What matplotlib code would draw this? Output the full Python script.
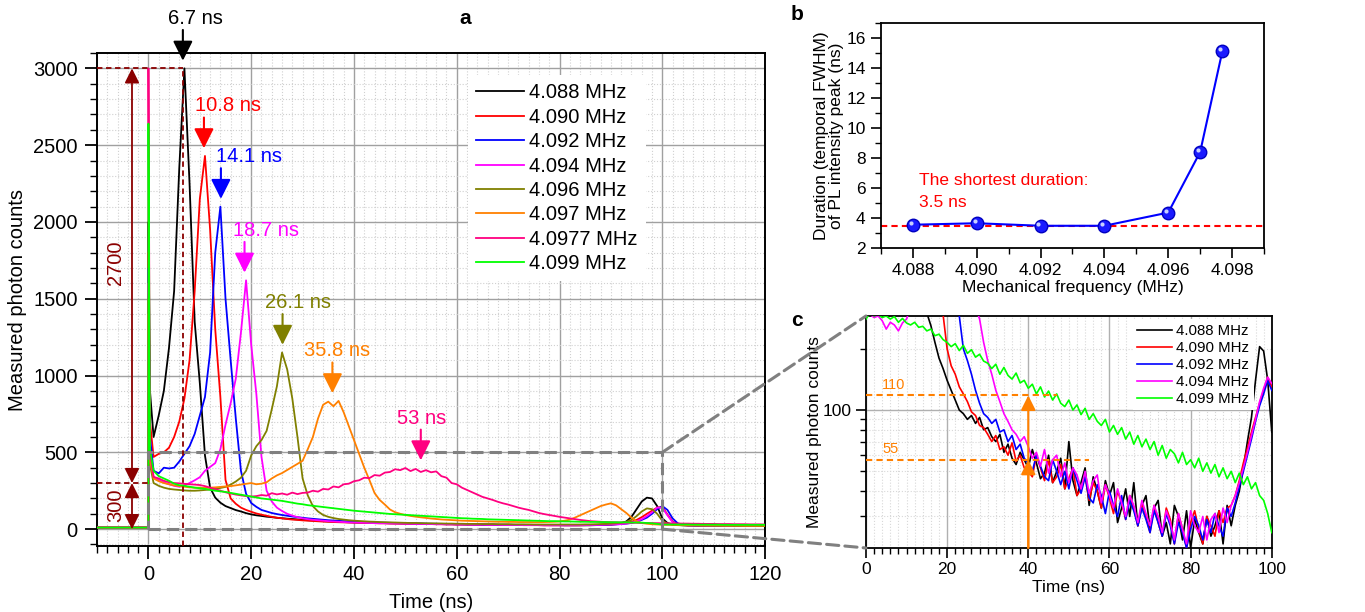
import numpy as np
import matplotlib.pyplot as plt
from matplotlib.patches import Rectangle, ConnectionPatch
from matplotlib.ticker import MultipleLocator, FixedLocator, NullFormatter, FormatStrFormatter
import matplotlib.transforms as mtransforms

plt.rcParams['font.family'] = ['Liberation Sans', 'DejaVu Sans']

# ---------------- data ----------------
labels = ['4.088 MHz', '4.090 MHz', '4.092 MHz', '4.094 MHz',
          '4.096 MHz', '4.097 MHz', '4.0977 MHz', '4.099 MHz']
colors = ['#000000', '#ff0000', '#0000ff', '#ff00ff',
          '#808000', '#ff8000', '#ff0080', '#00ff00']

# panel a: time grid (ns), baseline points, laser spike, then 1 ns steps
t_a = [-10, -0.01, 0, 0.3] + list(range(1, 121))

black_a = [10, 10, 2000, 900,
    600, 740, 900, 1180, 1550, 2350, 3000, 2250, 1350, 950,
    480, 270, 205, 172, 150, 137, 124, 115, 104, 96,
    90, 86, 81, 78, 74, 71, 68, 66, 63, 60,
    58, 56, 55, 52, 50, 49, 47, 46, 45, 44,
    43, 42, 41, 40, 40, 39, 38, 38, 37, 36,
    36, 35, 35, 34, 34, 33, 33, 32, 32, 31,
    31, 30, 30, 30, 29, 29, 29, 28, 28, 28,
    28, 27, 27, 27, 27, 26, 26, 26, 26, 26,
    25, 25, 25, 25, 25, 25, 26, 27, 28, 30,
    33, 38, 50, 80, 130, 180, 205, 200, 150, 70,
    40, 30, 27, 25, 24, 24, 23, 23, 23, 22,
    22, 22, 22, 21, 21, 21, 21, 20, 20, 20]
red_a = [10, 10, 1800, 700,
    470, 490, 500, 530, 600, 700, 850, 1100, 1550, 2150,
    2430, 1950, 1300, 860, 320, 200, 165, 140, 125, 113,
    102, 94, 87, 80, 74, 70, 66, 62, 60, 57,
    55, 53, 51, 49, 48, 46, 45, 44, 43, 42,
    41, 40, 40, 39, 38, 38, 37, 36, 36, 35,
    35, 34, 34, 33, 33, 32, 32, 31, 31, 30,
    30, 30, 29, 29, 29, 28, 28, 28, 27, 27,
    27, 27, 26, 26, 26, 26, 25, 25, 25, 25,
    25, 25, 25, 25, 26, 26, 27, 28, 29, 30,
    32, 35, 40, 48, 60, 78, 100, 120, 140, 145,
    95, 50, 32, 27, 25, 24, 23, 23, 22, 22,
    22, 22, 21, 21, 21, 21, 20, 20, 20, 20]
blue_a = [10, 10, 1700, 600,
    380, 363, 400, 395, 400, 440, 490, 540, 620, 740,
    860, 1150, 1800, 2100, 1500, 1100, 720, 380, 230, 170,
    145, 125, 115, 105, 98, 92, 87, 82, 78, 74,
    70, 67, 64, 61, 58, 56, 54, 52, 50, 48,
    47, 46, 45, 44, 43, 42, 41, 40, 39, 39,
    38, 37, 37, 36, 35, 35, 34, 34, 33, 33,
    32, 32, 31, 31, 30, 30, 30, 29, 29, 29,
    28, 28, 28, 27, 27, 27, 27, 26, 26, 26,
    26, 26, 26, 26, 26, 27, 27, 28, 29, 30,
    31, 33, 36, 40, 48, 60, 75, 100, 130, 150,
    125, 70, 38, 28, 25, 24, 23, 23, 22, 22,
    22, 21, 21, 21, 21, 20, 20, 20, 20, 20]
magenta_a = [10, 10, 1600, 500,
    340, 320, 305, 292, 282, 276, 285, 300, 318, 338,
    380, 405, 430, 520, 680, 820, 980, 1280, 1620, 1200,
    880, 470, 250, 180, 140, 118, 100, 88, 78, 70,
    65, 61, 58, 55, 52, 50, 48, 46, 44, 43,
    42, 41, 40, 39, 38, 38, 37, 36, 36, 35,
    35, 34, 34, 33, 33, 32, 32, 31, 31, 30,
    30, 30, 29, 29, 29, 28, 28, 28, 27, 27,
    27, 27, 26, 26, 26, 26, 25, 25, 25, 25,
    25, 25, 25, 26, 26, 27, 27, 28, 29, 30,
    31, 33, 36, 42, 52, 65, 85, 110, 140, 140,
    90, 45, 30, 26, 24, 24, 23, 23, 22, 22,
    22, 21, 21, 21, 21, 20, 20, 20, 20, 20]
olive_a = [10, 10, 1500, 420,
    300, 282, 270, 262, 258, 255, 252, 250, 250, 252,
    255, 258, 262, 268, 275, 290, 310, 335, 380, 480,
    540, 580, 640, 780, 930, 1150, 1040, 850, 600, 330,
    220, 150, 115, 92, 80, 72, 66, 62, 58, 55,
    53, 51, 49, 48, 46, 45, 44, 43, 42, 41,
    40, 40, 39, 38, 38, 37, 37, 36, 36, 35,
    35, 34, 34, 34, 33, 33, 33, 32, 32, 32,
    31, 31, 31, 31, 30, 30, 30, 30, 30, 30,
    30, 30, 30, 30, 31, 31, 32, 33, 34, 36,
    38, 42, 48, 60, 85, 115, 135, 130, 100, 55,
    35, 28, 26, 25, 24, 24, 23, 23, 23, 22,
    22, 22, 22, 21, 21, 21, 21, 21, 20, 20]
orange_a = [10, 10, 1400, 450,
    330, 312, 300, 292, 285, 280, 276, 272, 270, 270,
    268, 270, 272, 275, 278, 280, 285, 290, 295, 300,
    292, 296, 305, 330, 350, 365, 385, 405, 425, 445,
    520, 600, 720, 810, 830, 800, 835, 760, 670, 580,
    490, 400, 320, 235, 190, 160, 128, 110, 100, 92,
    86, 81, 77, 73, 69, 66, 63, 61, 59, 57,
    55, 54, 53, 52, 51, 50, 49, 48, 48, 47,
    47, 46, 46, 46, 45, 45, 46, 47, 48, 50,
    55, 62, 75, 90, 105, 120, 135, 150, 160, 168,
    155, 130, 105, 75, 50, 40, 35, 32, 30, 29,
    28, 28, 27, 27, 26, 26, 26, 25, 25, 25,
    25, 24, 24, 24, 24, 23, 23, 23, 23, 23]
pink_a = [10, 10, 3000, 500,
    340, 330, 315, 305, 300, 298, 295, 292, 290, 287,
    280, 270, 260, 250, 240, 232, 225, 220, 215, 212,
    215, 222, 218, 234, 226, 232, 224, 238, 228, 236,
    238, 250, 244, 262, 258, 278, 272, 292, 296, 312,
    318, 335, 332, 352, 348, 368, 372, 390, 384, 398,
    378, 392, 372, 384, 370, 376, 345, 335, 300, 292,
    270, 255, 240, 225, 210, 200, 190, 178, 168, 160,
    150, 140, 132, 125, 115, 105, 98, 92, 86, 80,
    75, 70, 65, 60, 56, 52, 50, 48, 46, 45,
    44, 43, 42, 42, 41, 40, 40, 39, 39, 38,
    38, 37, 37, 36, 36, 35, 35, 34, 34, 34,
    33, 33, 33, 32, 32, 32, 31, 31, 31, 30]
green_a = [10, 10, 2640, 520,
    380, 345, 330, 315, 296, 286, 282, 276, 270, 266,
    262, 256, 250, 246, 242, 236, 230, 224, 218, 212,
    206, 200, 196, 192, 188, 184, 178, 172, 166, 162,
    156, 152, 148, 144, 140, 136, 132, 128, 124, 120,
    117, 114, 111, 108, 105, 102, 99, 97, 95, 93,
    91, 89, 87, 85, 83, 81, 79, 77, 75, 73,
    71, 70, 68, 67, 66, 64, 63, 62, 61, 60,
    59, 58, 57, 56, 55, 54, 53, 52, 52, 51,
    50, 50, 49, 48, 48, 47, 47, 46, 46, 45,
    45, 44, 44, 43, 43, 42, 40, 38, 34, 30,
    30, 30, 30, 30, 30, 29, 29, 29, 29, 29,
    29, 28, 28, 28, 28, 28, 28, 28, 28, 28]
series_a = [black_a, red_a, blue_a, magenta_a, olive_a, orange_a, pink_a, green_a]

peak_times = [6.7, 10.8, 14.1, 18.7, 26.1, 35.8, 53]
peak_labels = ['6.7 ns', '10.8 ns', '14.1 ns', '18.7 ns', '26.1 ns', '35.8 ns', '53 ns']
peak_series = [0, 1, 2, 3, 4, 5, 6]

# panel b
b_freq = [4.088, 4.090, 4.092, 4.094, 4.096, 4.097, 4.0977]
b_fwhm = [3.55, 3.65, 3.48, 3.48, 4.36, 8.4, 15.16]
b_shortest = 3.45

# panel c: zoomed tails on log scale, 1 ns steps
t_c = list(range(0, 101))
black_c = [2000, 600, 740, 900, 1180, 1550, 2350, 3000, 2200, 1350,
    950, 600, 450, 380, 330, 300, 260, 215, 180, 160,
    140, 125, 112, 100, 96, 90, 94, 86, 92, 80,
    82, 74, 70, 76, 62, 68, 58, 54, 62, 57,
    52, 64, 55, 46, 49, 60, 44, 50, 58, 41,
    70, 45, 38, 44, 52, 34, 47, 40, 33, 45,
    38, 44, 28, 33, 41, 30, 44, 27, 34, 38,
    26, 33, 36, 24, 28, 22, 34, 30, 23, 32,
    21, 29, 25, 22, 30, 24, 27, 32, 22, 34,
    27, 34, 40, 52, 70, 92, 140, 205, 195, 140,
    78]
red_c = [1800, 470, 490, 500, 530, 600, 700, 850, 1100, 1550,
    2150, 2430, 1950, 1300, 860, 500, 400, 350, 320, 295,
    200, 165, 150, 130, 120, 110, 98, 94, 84, 82,
    76, 70, 75, 64, 66, 60, 69, 56, 60, 52,
    50, 47, 60, 52, 45, 57, 44, 47, 54, 41,
    46, 52, 38, 41, 47, 36, 44, 40, 33, 43,
    37, 31, 40, 35, 29, 38, 33, 27, 35, 30,
    25, 34, 28, 24, 33, 29, 22, 31, 26, 21,
    28, 32, 26, 22, 30, 27, 24, 32, 28, 33,
    34, 38, 45, 55, 65, 78, 92, 108, 125, 145,
    130]
blue_c = [1700, 380, 363, 400, 395, 400, 440, 490, 540, 620,
    740, 860, 1150, 1800, 2100, 1500, 1100, 720, 450, 380,
    340, 320, 305, 290, 200, 175, 150, 125, 108, 96,
    92, 86, 90, 78, 80, 70, 75, 64, 68, 58,
    55, 50, 60, 53, 47, 45, 57, 50, 43, 50,
    41, 52, 45, 39, 47, 37, 35, 43, 38, 31,
    40, 34, 30, 38, 29, 36, 32, 27, 33, 29,
    25, 32, 28, 24, 31, 27, 22, 28, 25, 21,
    26, 30, 27, 23, 29, 25, 31, 27, 24, 33,
    30, 35, 42, 50, 60, 72, 88, 105, 120, 140,
    125]
magenta_c = [300, 295, 285, 290, 275, 250, 270, 262, 245, 268,
    280, 320, 400, 430, 520, 680, 800, 950, 1250, 1620,
    1200, 900, 700, 560, 480, 420, 370, 320, 280, 215,
    175, 150, 125, 110, 96, 88, 80, 76, 70, 74,
    66, 58, 62, 53, 64, 49, 57, 60, 47, 55,
    44, 52, 48, 41, 50, 39, 45, 48, 35, 43,
    38, 33, 41, 35, 30, 38, 34, 28, 36, 31,
    27, 34, 30, 25, 32, 28, 23, 31, 26, 22,
    32, 27, 25, 30, 23, 29, 31, 25, 33, 28,
    34, 38, 44, 52, 62, 75, 90, 110, 128, 145,
    135]
green_c = [280, 300, 290, 295, 285, 290, 280, 288, 270, 282,
    268, 262, 270, 255, 258, 245, 250, 232, 236, 222,
    215, 205, 212, 196, 208, 190, 198, 182, 188, 174,
    170, 160, 168, 150, 162, 148, 142, 152, 136, 140,
    128, 134, 120, 130, 116, 124, 112, 120, 108, 104,
    112, 100, 106, 95, 102, 90, 96, 88, 84, 90,
    78, 84, 76, 82, 72, 78, 68, 75, 66, 72,
    64, 70, 60, 67, 58, 64, 61, 55, 62, 54,
    57, 52, 58, 50, 55, 49, 54, 47, 52, 46,
    50, 44, 49, 43, 47, 41, 44, 38, 36, 31,
    25]
series_c = [black_c, red_c, blue_c, magenta_c, green_c]
colors_c = ['#000000', '#ff0000', '#0000ff', '#ff00ff', '#00ff00']
labels_c = ['4.088 MHz', '4.090 MHz', '4.092 MHz', '4.094 MHz', '4.099 MHz']
ratio_levels = [118, 57]
ratio_labels = ['110', '55']

# ---------------- figure ----------------
fig = plt.figure(figsize=(13.65, 6.12), dpi=100)
ax_a = fig.add_axes([0.0711, 0.1078, 0.4894, 0.8056])
ax_b = fig.add_axes([0.6454, 0.5948, 0.2806, 0.3676])
ax_c = fig.add_axes([0.6344, 0.1046, 0.2973, 0.3791])

FS_A = 14.5
FS_B = 12.5
maroon = '#8b0000'
gray = '#808080'

# ---- panel a ----
for y, c, lab in zip(series_a, colors, labels):
    ax_a.plot(t_a, y, color=c, lw=1.3, label=lab, zorder=3)

ax_a.set_xlim(-10, 120)
ax_a.set_ylim(-110, 3100)
ax_a.xaxis.set_major_locator(MultipleLocator(20))
ax_a.xaxis.set_minor_locator(MultipleLocator(2))
ax_a.yaxis.set_major_locator(MultipleLocator(500))
ax_a.yaxis.set_minor_locator(MultipleLocator(100))
ax_a.set_axisbelow(True)
ax_a.grid(which='major', color='#a0a0a0', lw=1.0)
ax_a.grid(which='minor', color='#d0d0d0', lw=0.8, ls=':')
ax_a.tick_params(which='major', direction='out', length=9, width=1.3, labelsize=FS_A, pad=5)
ax_a.tick_params(which='minor', direction='out', length=5, width=1.0)
for s in ax_a.spines.values():
    s.set_linewidth(1.4)
ax_a.set_xlabel('Time (ns)', fontsize=FS_A, labelpad=6)
ax_a.set_ylabel('Measured photon counts', fontsize=FS_A, labelpad=4)

leg = ax_a.legend(loc='upper left', bbox_to_anchor=(0.555, 0.955), fontsize=FS_A,
                  frameon=True, fancybox=False, framealpha=1, edgecolor='none',
                  handlelength=2.4, labelspacing=0.27, borderaxespad=0, handletextpad=0.25)

# zoom box
ax_a.add_patch(Rectangle((0, 0), 100, 500, fill=False, ec=gray, lw=2.2,
                         ls=(0, (4, 2)), zorder=4))

# peak arrows and labels (peak height taken after the laser spike, t >= 1 ns)
text_dx = [2.4, 4.6, 5.4, 4.1, 3.1, 0.9, 0.2]
for i, (tp, lab, si) in enumerate(zip(peak_times, peak_labels, peak_series)):
    c = colors[si]
    peak = max(series_a[si][4:])
    tip = peak + 50
    tail = tip + 200
    ax_a.annotate('', xy=(tp, tip), xytext=(tp, tail), annotation_clip=False,
                  arrowprops=dict(arrowstyle='-|>', color=c, lw=1.5,
                                  mutation_scale=30, shrinkA=0, shrinkB=0), zorder=6)
    ax_a.text(tp + text_dx[i], tail + 75, lab, color=c, fontsize=FS_A,
              ha='center', va='center', clip_on=False, zorder=6)

# maroon markers of the 2700 / 300 heights
peak_max = max(black_a)
base_level = 300
ax_a.plot([-10, peak_times[0]], [peak_max, peak_max], color=maroon, lw=1.3, ls=(0, (3, 2)), zorder=5)
ax_a.plot([peak_times[0], peak_times[0]], [-110, peak_max], color=maroon, lw=1.3, ls=(0, (3, 2)), zorder=5)
ax_a.plot([-10, 0], [base_level, base_level], color=maroon, lw=1.3, ls=(0, (3, 2)), zorder=5)
ax_a.annotate('', xy=(-3.2, peak_max), xytext=(-3.2, base_level),
              arrowprops=dict(arrowstyle='<|-|>', color=maroon, lw=1.3,
                              mutation_scale=22, shrinkA=0, shrinkB=0), zorder=5)
ax_a.annotate('', xy=(-3.2, base_level), xytext=(-3.2, 0),
              arrowprops=dict(arrowstyle='<|-|>', color=maroon, lw=1.3,
                              mutation_scale=22, shrinkA=0, shrinkB=0), zorder=5)
ax_a.text(-6.4, 1734, f'{peak_max - base_level}', rotation=90, color=maroon,
          fontsize=FS_A, ha='center', va='center')
ax_a.text(-6.4, 156, f'{base_level}', rotation=90, color=maroon,
          fontsize=FS_A, ha='center', va='center')

# ---- panel b ----
ax_b.plot(b_freq, b_fwhm, color='#0000ff', lw=1.5, marker='o', ms=9,
          mfc='#1a1aff', mec='#0000c0', zorder=3)
hl = mtransforms.ScaledTranslation(-1.5 / 72, 1.5 / 72, fig.dpi_scale_trans)
ax_b.plot(b_freq, b_fwhm, ls='none', marker='o', ms=3, mfc='#c8d0ff', mec='none',
          transform=ax_b.transData + hl, zorder=4)
ax_b.axhline(b_shortest, color='#ff0000', lw=1.5, ls=(0, (3, 2)), zorder=2)
ax_b.text(4.0882, 6.5, 'The shortest duration:', color='#ff0000', fontsize=FS_B,
          ha='left', va='center')
ax_b.text(4.0882, 5.0, f'{b_shortest + 0.05:.1f} ns', color='#ff0000', fontsize=FS_B,
          ha='left', va='center')
ax_b.set_xlim(4.087, 4.099)
ax_b.set_ylim(2, 17)
ax_b.xaxis.set_major_locator(MultipleLocator(0.002))
ax_b.xaxis.set_minor_locator(MultipleLocator(0.001))
ax_b.xaxis.set_major_formatter(FormatStrFormatter('%.3f'))
ax_b.yaxis.set_major_locator(MultipleLocator(2))
ax_b.yaxis.set_minor_locator(MultipleLocator(1))
ax_b.tick_params(which='major', direction='out', length=7, width=1.2, labelsize=FS_B, pad=4)
ax_b.tick_params(which='minor', direction='out', length=4, width=1.0)
for s in ax_b.spines.values():
    s.set_linewidth(1.3)
ax_b.set_xlabel('Mechanical frequency (MHz)', fontsize=FS_B, labelpad=1)
ax_b.set_ylabel('Duration (temporal FWHM)\nof PL intensity peak (ns)', fontsize=FS_B,
                labelpad=2, linespacing=1.0)

# ---- panel c ----
for y, c, lab in zip(series_c, colors_c, labels_c):
    ax_c.plot(t_c, y, color=c, lw=1.2, label=lab, zorder=3)
ax_c.set_yscale('log')
ax_c.set_xlim(0, 100)
ax_c.set_ylim(21, 290)
ax_c.xaxis.set_major_locator(MultipleLocator(20))
ax_c.xaxis.set_minor_locator(MultipleLocator(2))
ax_c.yaxis.set_major_locator(FixedLocator([100]))
ax_c.yaxis.set_minor_locator(FixedLocator([30, 40, 50, 60, 70, 80, 90, 200]))
ax_c.yaxis.set_minor_formatter(NullFormatter())
ax_c.yaxis.set_major_formatter(FormatStrFormatter('%d'))
ax_c.set_axisbelow(True)
ax_c.grid(which='major', color='#b0b0b0', lw=1.0)
ax_c.grid(which='minor', color='#d8d8d8', lw=0.8, ls=':')
ax_c.tick_params(which='major', direction='out', length=7, width=1.2, labelsize=FS_B, pad=3)
ax_c.tick_params(which='minor', direction='out', length=4, width=1.0)
for s in ax_c.spines.values():
    s.set_linewidth(1.3)
ax_c.set_xlabel('Time (ns)', fontsize=FS_B, labelpad=2)
ax_c.set_ylabel('Measured photon counts', fontsize=FS_B, labelpad=1)
ax_c.legend(loc='upper right', bbox_to_anchor=(0.955, 0.985), fontsize=10.8,
            frameon=True, fancybox=False, framealpha=1, edgecolor='none',
            handlelength=2.3, labelspacing=0.2, borderaxespad=0, handletextpad=0.3,
            borderpad=0.3)

orange = '#ff8000'
ax_c.plot([0, 47], [ratio_levels[0]] * 2, color=orange, lw=1.5, ls=(0, (3, 2)), zorder=4)
ax_c.plot([0, 55], [ratio_levels[1]] * 2, color=orange, lw=1.5, ls=(0, (3, 2)), zorder=4)
ax_c.text(4, ratio_levels[0] * 1.12, ratio_labels[0], color=orange, fontsize=10.5, ha='left', va='center')
ax_c.text(4, ratio_levels[1] * 1.13, ratio_labels[1], color=orange, fontsize=10.5, ha='left', va='center')
for lvl in ratio_levels:
    ax_c.annotate('', xy=(40, lvl), xytext=(40, 21),
                  arrowprops=dict(arrowstyle='-|>', color=orange, lw=1.5,
                                  mutation_scale=22, shrinkA=0, shrinkB=0), zorder=5)

# connectors from zoom box to panel c
for ya, yb in [(500, 1), (0, 0)]:
    con = ConnectionPatch(xyA=(100, ya), coordsA=ax_a.transData,
                          xyB=(0, yb), coordsB=ax_c.transAxes,
                          color=gray, lw=2.2, ls=(0, (4, 2)), zorder=1)
    fig.add_artist(con)

# panel letters
fig.text(465 / 1365, 1 - 18 / 612, 'a', fontsize=15, weight='bold', ha='center', va='center')
fig.text(797 / 1365, 1 - 15 / 612, 'b', fontsize=15, weight='bold', ha='center', va='center')
fig.text(797 / 1365, 1 - 320 / 612, 'c', fontsize=15, weight='bold', ha='center', va='center')

fig.savefig('out.png', dpi=100)
